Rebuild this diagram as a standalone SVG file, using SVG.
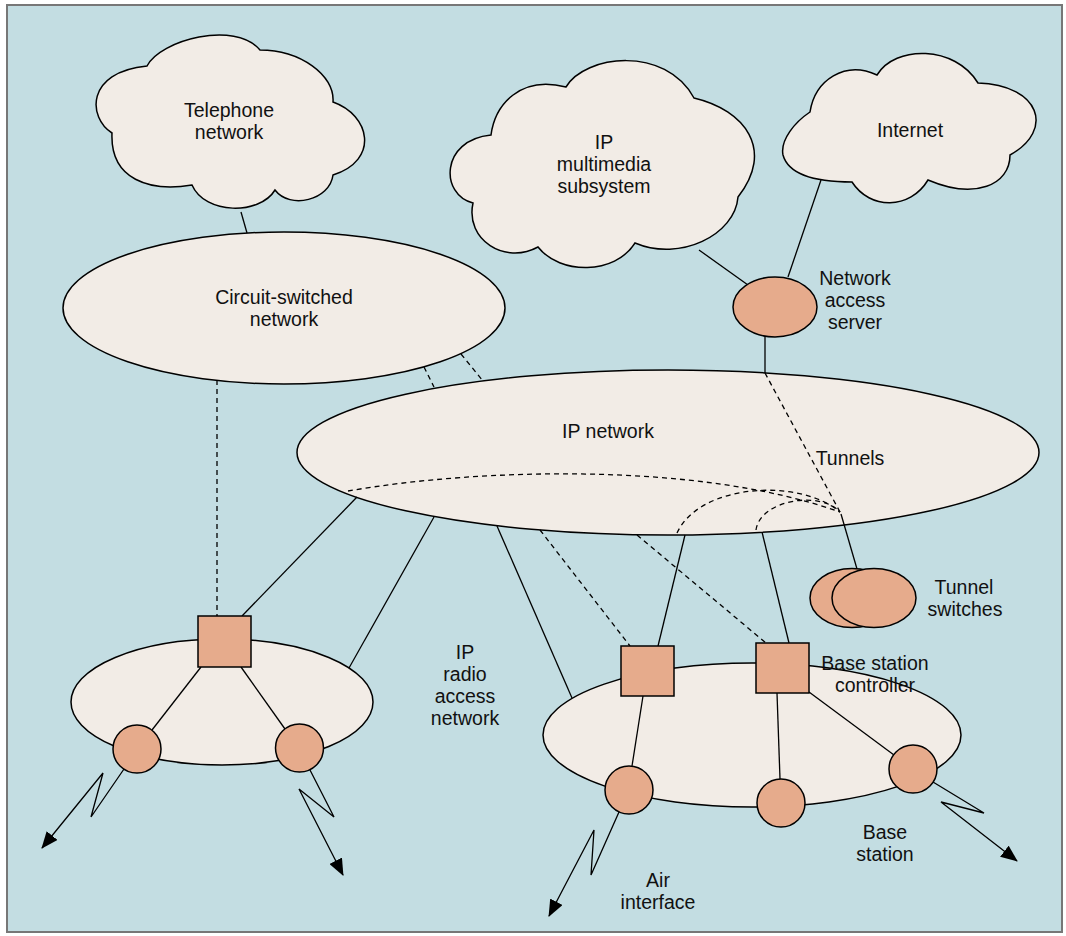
<svg xmlns="http://www.w3.org/2000/svg" width="1066" height="936" viewBox="0 0 1066 936">
<style>
.bg{fill:#c3dde2;stroke:#777;stroke-width:2}
.net{fill:#f2ece6;stroke:#000;stroke-width:1.5}
.dev{fill:#e6ab8c;stroke:#000;stroke-width:1.5}
.ln{stroke:#000;stroke-width:1.3;fill:none}
.dash{stroke-dasharray:5,4}
text{font-family:"Liberation Sans",Arial,sans-serif;font-size:19.5px;fill:#111;text-anchor:middle}
</style>
<defs>
<marker id="arr" viewBox="0 0 17 14" refX="16" refY="7" markerWidth="17" markerHeight="14" markerUnits="userSpaceOnUse" orient="auto">
<path d="M0,0 L17,7 L0,14 Z" fill="#000"/>
</marker>
</defs>
<rect x="0" y="0" width="1066" height="936" fill="#fff"/>
<rect class="bg" x="7" y="5" width="1055" height="927"/>

<g id="telephone-network">
<path class="net" d="M112,133 C88,118 85,72 147,66 C160,40 235,20 260,50 C300,50 335,75 333,102 C370,115 380,160 333,175 C330,200 290,210 275,190 C260,215 205,215 192,185 C150,192 110,180 112,133 Z"/>
<text x="229" y="117">Telephone</text>
<text x="229" y="139">network</text>
</g>

<g id="ip-multimedia-subsystem">
<path class="net" d="M491,135 C495,105 520,75 566,87 C585,55 665,45 694,98 C745,110 775,150 738,197 C735,235 680,262 635,243 C615,275 560,275 538,247 C505,265 465,240 473,203 C440,195 440,140 491,135 Z"/>
<text x="604" y="149">IP</text>
<text x="604" y="171">multimedia</text>
<text x="604" y="193">subsystem</text>
</g>

<g id="internet">
<path class="net" d="M810,112 C815,80 845,60 877,75 C895,45 955,45 978,83 C1040,85 1055,130 1010,155 C1010,185 975,200 928,180 C910,210 870,210 852,182 C830,182 790,180 783,155 C780,140 795,122 810,112 Z"/>
<text x="910" y="137">Internet</text>
</g>

<g id="circuit-switched-network">
<ellipse class="net" cx="284" cy="308" rx="221" ry="76"/>
<text x="284" y="304">Circuit-switched</text>
<text x="284" y="326">network</text>
</g>

<g id="ip-network">
<ellipse class="net" cx="668" cy="452.5" rx="371" ry="82.5"/>
<text x="608" y="438">IP network</text>
</g>

<g id="radio-access-network-left">
<ellipse class="net" cx="222" cy="702" rx="151" ry="63"/>
</g>

<g id="radio-access-network-right">
<ellipse class="net" cx="752" cy="735" rx="209" ry="72"/>
</g>

<g id="connectors">
<line class="ln" x1="241" y1="212" x2="247" y2="233"/>
<line class="ln" x1="699" y1="250" x2="748" y2="285"/>
<line class="ln" x1="821" y1="180" x2="788" y2="277"/>
<line class="ln" x1="765" y1="336" x2="765" y2="373"/>
<line class="ln dash" x1="424" y1="367" x2="434" y2="387"/>
<line class="ln dash" x1="461" y1="354" x2="483" y2="381"/>
<line class="ln dash" x1="217" y1="380" x2="217" y2="616"/>
<line class="ln dash" x1="765" y1="373" x2="840" y2="512"/>
<path class="ln dash" d="M348,491 C480,468 700,462 840,512"/>
<path class="ln dash" d="M677,533 C700,483 800,478 840,512"/>
<path class="ln dash" d="M756,530 C760,500 820,490 840,512"/>
<line class="ln" x1="841" y1="514" x2="857" y2="569"/>
<line class="ln" x1="357" y1="497" x2="242" y2="616"/>
<line class="ln" x1="434" y1="517" x2="349" y2="668"/>
<line class="ln" x1="201" y1="667" x2="152" y2="730"/>
<line class="ln" x1="241" y1="667" x2="285" y2="729"/>
<line class="ln" x1="497" y1="526" x2="572" y2="698"/>
<line class="ln" x1="685" y1="535" x2="658" y2="646"/>
<line class="ln" x1="762" y1="532" x2="789" y2="643"/>
<line class="ln dash" x1="540" y1="530" x2="630" y2="646"/>
<line class="ln dash" x1="637" y1="535" x2="766" y2="643"/>
<line class="ln" x1="643" y1="696" x2="632" y2="766"/>
<line class="ln" x1="777" y1="693" x2="780" y2="779"/>
<line class="ln" x1="809" y1="692" x2="894" y2="755"/>
<path class="ln" marker-end="url(#arr)" d="M124,769 L91,817 L103,773 L42,848"/>
<path class="ln" marker-end="url(#arr)" d="M310,770 L334,817 L299,789 L343,875"/>
<path class="ln" marker-end="url(#arr)" d="M619,812 L591,875 L594,830 L549,916"/>
<path class="ln" marker-end="url(#arr)" d="M933,782 L984,813 L941,802 L1017,861"/>
</g>

<g id="network-access-server">
<ellipse class="dev" cx="775" cy="307" rx="42" ry="30"/>
<text x="855" y="285">Network</text>
<text x="855" y="307">access</text>
<text x="855" y="329">server</text>
</g>

<g id="tunnels-label">
<text x="850" y="465">Tunnels</text>
</g>

<g id="tunnel-switches">
<ellipse class="dev" cx="852" cy="598" rx="42" ry="29.5"/>
<ellipse class="dev" cx="874" cy="598" rx="42" ry="29.5"/>
<text x="964" y="594">Tunnel</text>
<text x="965" y="616">switches</text>
</g>

<g id="controller-left">
<rect class="dev" x="198" y="616" width="53" height="51"/>
</g>
<g id="base-station-left-1"><circle class="dev" cx="137" cy="749" r="24"/></g>
<g id="base-station-left-2"><circle class="dev" cx="299.5" cy="748" r="24"/></g>

<g id="ip-radio-access-network-label">
<text x="465" y="659">IP</text>
<text x="465" y="681">radio</text>
<text x="465" y="703">access</text>
<text x="465" y="725">network</text>
</g>

<g id="controller-right-1">
<rect class="dev" x="621" y="646" width="53" height="50"/>
</g>
<g id="controller-right-2">
<rect class="dev" x="756" y="643" width="53" height="50"/>
<text x="875" y="670">Base station</text>
<text x="875" y="692">controller</text>
</g>
<g id="base-station-right-1"><circle class="dev" cx="629" cy="790" r="24"/></g>
<g id="base-station-right-2"><circle class="dev" cx="781" cy="803" r="24"/></g>
<g id="base-station-right-3"><circle class="dev" cx="913" cy="769" r="24"/>
<text x="885" y="839">Base</text>
<text x="885" y="861">station</text>
</g>

<g id="air-interface-label">
<text x="658" y="887">Air</text>
<text x="658" y="909">interface</text>
</g>
</svg>
